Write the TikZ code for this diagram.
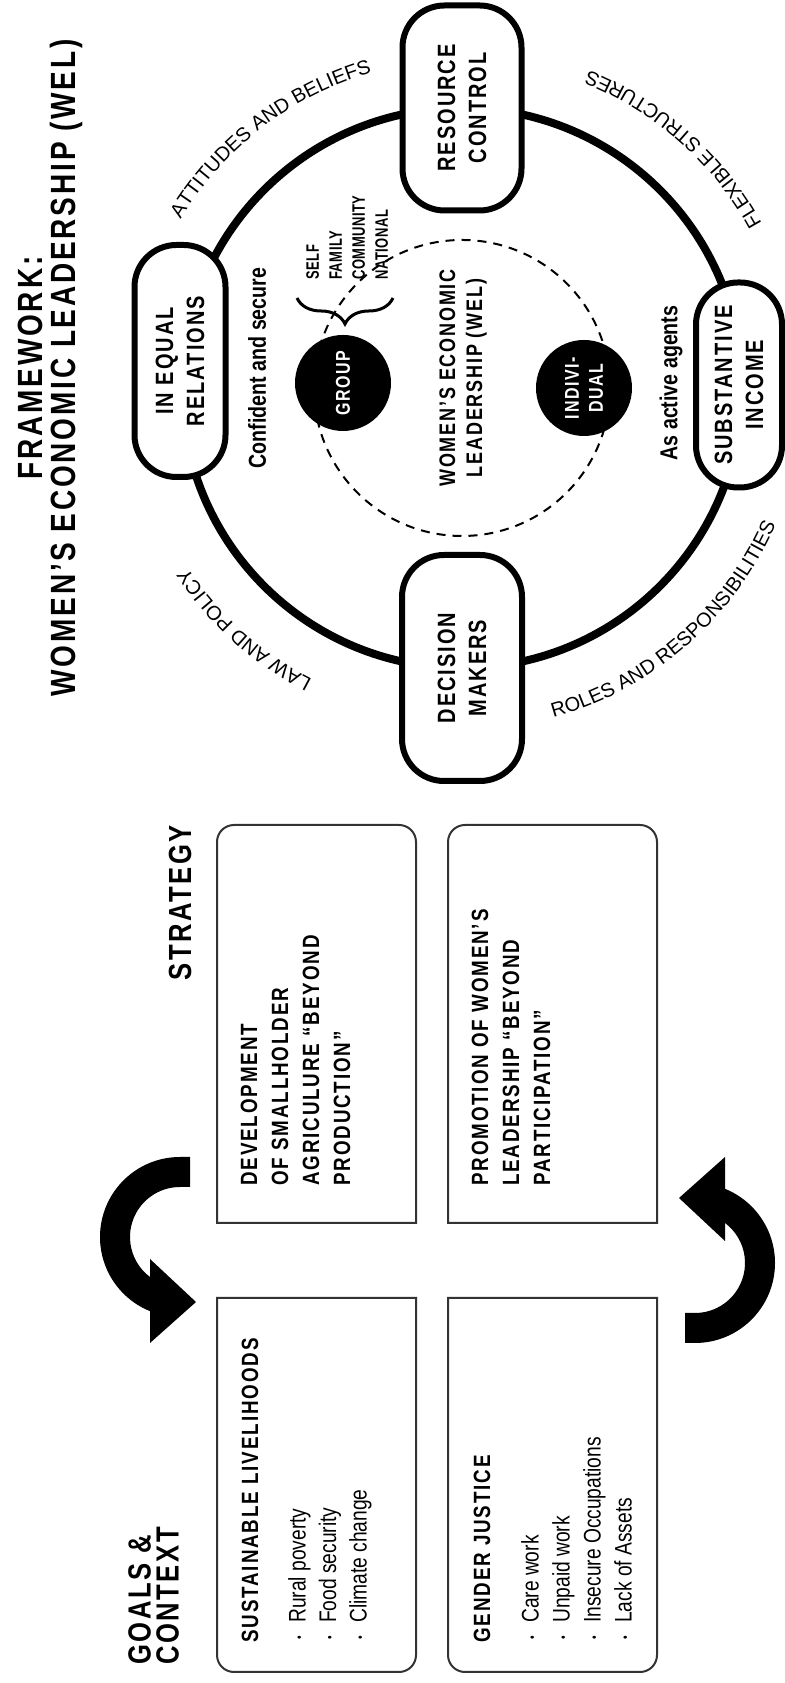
\documentclass[tikz,border=0pt]{standalone}
\usepackage{fontspec}
\setmainfont{Liberation Sans}
\newfontfamily\fHead{Liberation Sans}[FakeStretch=0.8,LetterSpace=8]
\newfontfamily\fBody{Liberation Sans}[FakeStretch=0.8]
\newfontfamily\fNarrow{Liberation Sans}[FakeStretch=0.72,LetterSpace=3]
\newfontfamily\fArc{Liberation Sans}
\usetikzlibrary{decorations.text,decorations.pathreplacing,calc}
\newcommand\bul{\makebox[17pt][l]{\raisebox{2pt}{\fontsize{13}{13}\selectfont\textbullet}}}
\begin{document}
\begin{tikzpicture}[x=1pt,y=1pt,
  hd/.style={inner sep=0pt, rotate=90},
  pill/.style={draw, line width=6pt, fill=white, rounded corners=42pt, rotate=90, align=center,
     font=\fHead\bfseries\fontsize{25}{31}\selectfont, inner sep=0pt},
  boxframe/.style={draw=black!80, line width=2pt},
  dot/.style={circle, fill=black, minimum size=96pt, inner sep=0pt, rotate=90, text=white, align=center,
     font=\fHead\bfseries\fontsize{20}{24}\selectfont},
  arctext/.style={decorate, decoration={text along path, text align=center, text={|\fArc\fontsize{20}{24}\selectfont|#1}}}
]
\useasboundingbox (0,0) rectangle (784,1683);
\fill[white] (0,0) rectangle (784,1683);

% ---------- title ----------
\node[hd, font=\fHead\bfseries\fontsize{35}{40}\selectfont] (t1) at (30,1315) {FRAMEWORK:};
\node[hd, font=\fHead\bfseries\fontsize{35}{40}\selectfont] (t2) at (66,1315) {WOMEN’S ECONOMIC LEADERSHIP (WEL)};

% ---------- framework ----------
\coordinate (C) at (462,1295);
\draw[line width=8pt] (C) circle[radius=280];
\draw[line width=2pt, dash pattern=on 9pt off 7pt] (C) circle[radius=148];

\node[pill, minimum width=232pt, minimum height=91pt] (ineq) at (180,1322) {IN EQUAL\\RELATIONS};
\node[pill, minimum width=205pt, minimum height=119pt] (res) at (462,1575) {RESOURCE\\CONTROL};
\node[pill, minimum width=226pt, minimum height=120pt] (dec) at (462,1015) {DECISION\\MAKERS};
\node[pill, minimum width=205pt, minimum height=86pt] (sub) at (739,1298) {SUBSTANTIVE\\INCOME};

\node[dot] (group) at (343,1300) {GROUP};
\node[dot] (indiv) at (584,1295) {INDIVI-\\DUAL};

\node[hd, align=center, font=\fHead\bfseries\fontsize{22.5}{27}\selectfont] (wel) at (463,1305) {WOMEN’S ECONOMIC\\LEADERSHIP (WEL)};
\node[hd, font=\fBody\bfseries\fontsize{24.5}{30}\selectfont] (conf) at (257,1315) {Confident and secure};
\node[hd, font=\fBody\bfseries\fontsize{24.5}{30}\selectfont] (agents) at (671,1300) {As active agents};

\draw[line width=3pt, decorate, decoration={brace, amplitude=26pt}] (393,1385) -- (297,1385);
\node[hd, anchor=north west, align=left, font=\fNarrow\bfseries\fontsize{18}{23}\selectfont] (levels) at (306,1403) {SELF\\FAMILY\\COMMUNITY\\NATIONAL};

\path[arctext={ATTITUDES AND BELIEFS}] ($(C)+(170:328)$) arc[start angle=170, end angle=85, radius=328];
\path[arctext={FLEXIBLE STRUCTURES}] ($(C)+(8:342)$) arc[start angle=8, end angle=89, radius=342];
\path[arctext={LAW AND POLICY}] ($(C)+(268:328)$) arc[start angle=268, end angle=188, radius=328];
\path[arctext={ROLES AND RESPONSIBILITIES}] ($(C)+(266:342)$) arc[start angle=266, end angle=356, radius=342];

% ---------- left side ----------
\node[hd, anchor=north west, align=left, font=\fHead\bfseries\fontsize{32}{28}\selectfont] (goals) at (128,18) {GOALS \&\\CONTEXT};
\node[hd, anchor=east, font=\fHead\bfseries\fontsize{32}{36}\selectfont] (strat) at (180,858) {STRATEGY};

% boxes
\draw[boxframe] (217,385) -- (217,28) arc[start angle=180, end angle=270, radius=17] -- (399,11) arc[start angle=270, end angle=360, radius=17] -- (416,385) -- cycle;
\draw[boxframe] (448,385) -- (448,28) arc[start angle=180, end angle=270, radius=17] -- (640,11) arc[start angle=270, end angle=360, radius=17] -- (657,385) -- cycle;
\draw[boxframe] (217,460) -- (217,841) arc[start angle=180, end angle=90, radius=17] -- (399,858) arc[start angle=90, end angle=0, radius=17] -- (416,460) -- cycle;
\draw[boxframe] (448,460) -- (448,841) arc[start angle=180, end angle=90, radius=17] -- (640,858) arc[start angle=90, end angle=0, radius=17] -- (657,460) -- cycle;

\node[hd, anchor=west, font=\fHead\bfseries\fontsize{23.5}{31}\selectfont] (slh) at (250,40) {SUSTAINABLE LIVELIHOODS};
\node[hd, anchor=north west, align=left, font=\fBody\fontsize{24}{30.5}\selectfont] (slb) at (288,43) {\bul Rural poverty\\\bul Food security\\\bul Climate change};
\node[hd, anchor=west, font=\fHead\bfseries\fontsize{23.5}{31}\selectfont] (gjh) at (482,40) {GENDER JUSTICE};
\node[hd, anchor=north west, align=left, font=\fBody\fontsize{24}{31}\selectfont] (gjb) at (521,43) {\bul Care work\\\bul Unpaid work\\\bul Insecure Occupations\\\bul Lack of Assets};

\node[hd, anchor=north west, align=left, font=\fHead\bfseries\fontsize{23.5}{31}\selectfont] (dev) at (240.5,497) {DEVELOPMENT\\OF SMALLHOLDER\\AGRICULURE “BEYOND\\PRODUCTION”};
\node[hd, anchor=north west, align=left, font=\fHead\bfseries\fontsize{23.5}{31}\selectfont] (prom) at (471.5,497) {PROMOTION OF WOMEN’S\\LEADERSHIP “BEYOND\\PARTICIPATION”};

% curved arrows
\fill (190,496) -- (190,526) -- (180,526) arc[start angle=90, end angle=250, radius=80]
   -- ($(180,446)+(250:50)$) arc[start angle=250, end angle=90, radius=50] -- cycle;
\fill (150,340) -- (196,381) -- (150,424) -- cycle;
\begin{scope}[rotate around={180:(437.5,433)}]
\fill (190,496) -- (190,526) -- (180,526) arc[start angle=90, end angle=250, radius=80]
   -- ($(180,446)+(250:50)$) arc[start angle=250, end angle=90, radius=50] -- cycle;
\fill (150,340) -- (196,381) -- (150,424) -- cycle;
\end{scope}
\end{tikzpicture}
\end{document}
